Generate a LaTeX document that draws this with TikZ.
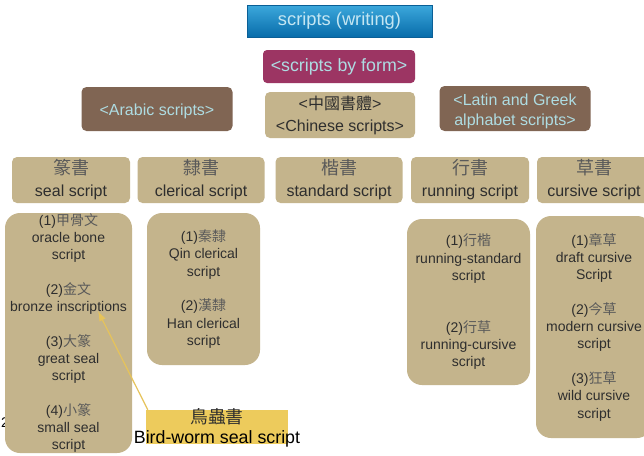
\documentclass[tikz,border=0pt]{standalone}
\usepackage{fontspec}
\setmainfont{Liberation Sans}
\newfontfamily\cjk{Noto Sans CJK TC}
\usetikzlibrary{arrows.meta}
\definecolor{tanc}{HTML}{C4B48C}
\definecolor{brownc}{HTML}{806553}
\definecolor{plumc}{HTML}{9C3563}
\definecolor{paleblue}{HTML}{AEDCE2}
\definecolor{textdark}{HTML}{2E2E2E}
\definecolor{zhc}{HTML}{5A5A5A}
\definecolor{birdc}{HTML}{EDCB5C}
\definecolor{arrowc}{HTML}{E6C35A}
\newcommand{\zhtext}[1]{{\cjk\color{zhc}#1}}
\newcommand{\zhbig}[1]{{\cjk\color{zhc}\fontsize{18}{22}\selectfont#1}}
\pgfdeclarelayer{background}
\pgfsetlayers{background,main}
\begin{document}
\begin{tikzpicture}[x=1pt,y=-1pt,
  conn/.style={draw=black,line width=1.2pt},
  tanbox/.style={fill=tanc,rounded corners=5pt,inner sep=0pt,text=textdark,align=center},
  lvltwo/.style={tanbox,minimum height=46pt,font=\fontsize{16}{22}\selectfont},
  subbox/.style={tanbox,rounded corners=15pt,font=\fontsize{14}{17.3}\selectfont},
  brownbox/.style={fill=brownc,rounded corners=5pt,inner sep=0pt,text=paleblue,align=center,font=\fontsize{16}{20}\selectfont}]
\useasboundingbox (0,0) rectangle (644,455);
\clip (0,0) rectangle (644,455);
\fill[white] (0,0) rectangle (644,455);

\node[text=black,font=\fontsize{14}{14}\selectfont] (pagenum) at (5,423) {2};

\node[draw={rgb,255:red,10;green,95;blue,150},line width=0.6pt,top color={rgb,255:red,60;green,168;blue,220},bottom color={rgb,255:red,8;green,108;blue,170},
  minimum width=185pt,minimum height=32pt,inner sep=0pt,text={rgb,255:red,196;green,230;blue,242},font=\fontsize{18.3}{20}\selectfont] (top) at (339.5,21) {scripts (writing)};
\node[fill=plumc,rounded corners=4pt,minimum width=152pt,minimum height=33pt,inner sep=0pt,text=paleblue,font=\fontsize{17.8}{20}\selectfont] (form) at (339,66.5) {<scripts by form>};
\node[brownbox,minimum width=151pt,minimum height=44pt] (arabic) at (157,109) {\raisebox{-2pt}[\height][\depth]{<Arabic scripts>}};
\node[brownbox,minimum width=151pt,minimum height=45pt] (latin) at (515,108.5) {\raisebox{-3pt}[\height][\depth]{\begin{tabular}{@{}c@{}}<Latin and Greek\\alphabet scripts>\end{tabular}}};
\node[tanbox,minimum width=150pt,minimum height=46pt,font=\fontsize{16}{22}\selectfont] (chinese) at (340,115) {<{\cjk\color{textdark}中國書體}>\\<Chinese scripts>};

\node[lvltwo,minimum width=118pt] (seal) at (71,180) {\zhbig{篆書}\\seal script};
\node[lvltwo,minimum width=127pt] (clerical) at (201,180) {\zhbig{隸書}\\clerical script};
\node[lvltwo,minimum width=127pt] (standard) at (339,180) {\zhbig{楷書}\\standard script};
\node[lvltwo,minimum width=118pt] (running) at (470,180) {\zhbig{行書}\\running script};
\node[lvltwo,minimum width=114pt] (cursive) at (594,180) {\zhbig{草書}\\cursive script};

\node[subbox,minimum width=127pt,minimum height=240pt] (sealsub) at (68.5,333)
  {(1)\zhtext{甲骨文}\\oracle bone\\script\\[17.3pt](2)\zhtext{金文}\\bronze inscriptions\\[17.3pt](3)\zhtext{大篆}\\great seal\\script\\[17.3pt](4)\zhtext{小篆}\\small seal\\script};
\node[subbox,minimum width=113pt,minimum height=152pt] (clericalsub) at (203.5,289)
  {(1)\zhtext{秦隸}\\Qin clerical\\script\\[17.3pt](2)\zhtext{漢隸}\\Han clerical\\script};
\node[subbox,minimum width=123pt,minimum height=166pt] (runningsub) at (468.5,302)
  {(1)\zhtext{行楷}\\running-standard\\script\\[34.6pt](2)\zhtext{行草}\\running-cursive\\script};
\node[subbox,minimum width=116pt,minimum height=222pt] (cursivesub) at (594,327)
  {(1)\zhtext{章草}\\draft cursive\\Script\\[17.3pt](2)\zhtext{今草}\\modern cursive\\script\\[17.3pt](3)\zhtext{狂草}\\wild cursive\\script};

\coordinate (hubone) at (340,75);
\coordinate (hubtwo) at (340,145);
\coordinate (birdtip) at (98,311);

\begin{pgfonlayer}{background}
\draw[conn] (top.south) -- (form.north);
\draw[conn] (arabic.north) |- (hubone) -| (latin.north);
\draw[conn] (form.south) -- (form.south |- chinese.north);
\draw[conn] (chinese.south) -- (chinese.south |- standard.north);
\draw[conn] (seal.north) |- (hubtwo) -| (cursive.north);
\draw[conn] (clerical.north) -- (clerical.north |- hubtwo);
\draw[conn] (running.north) -- (running.north |- hubtwo);
\draw[conn] (seal.south) -- (seal.south |- sealsub.north);
\draw[conn] (clerical.south) -- (clerical.south |- clericalsub.north);
\draw[conn] (running.south) -- (running.south |- runningsub.north);
\draw[conn] (cursive.south) -- (cursive.south |- cursivesub.north);
\end{pgfonlayer}

\node[fill=birdc,minimum width=142pt,minimum height=34pt,inner sep=0pt] (birdbox) at (217,427) {};
\node[align=center,inner sep=0pt,font=\fontsize{17.8}{20}\selectfont] (bird) at (217,428) {{\cjk\color{textdark}鳥蟲書}\\Bird-worm seal script};
\draw[draw=arrowc,line width=1.2pt,-{Latex[length=10pt,width=7pt]}] ([xshift=2pt]birdbox.north west) -- (birdtip);
\end{tikzpicture}
\end{document}
